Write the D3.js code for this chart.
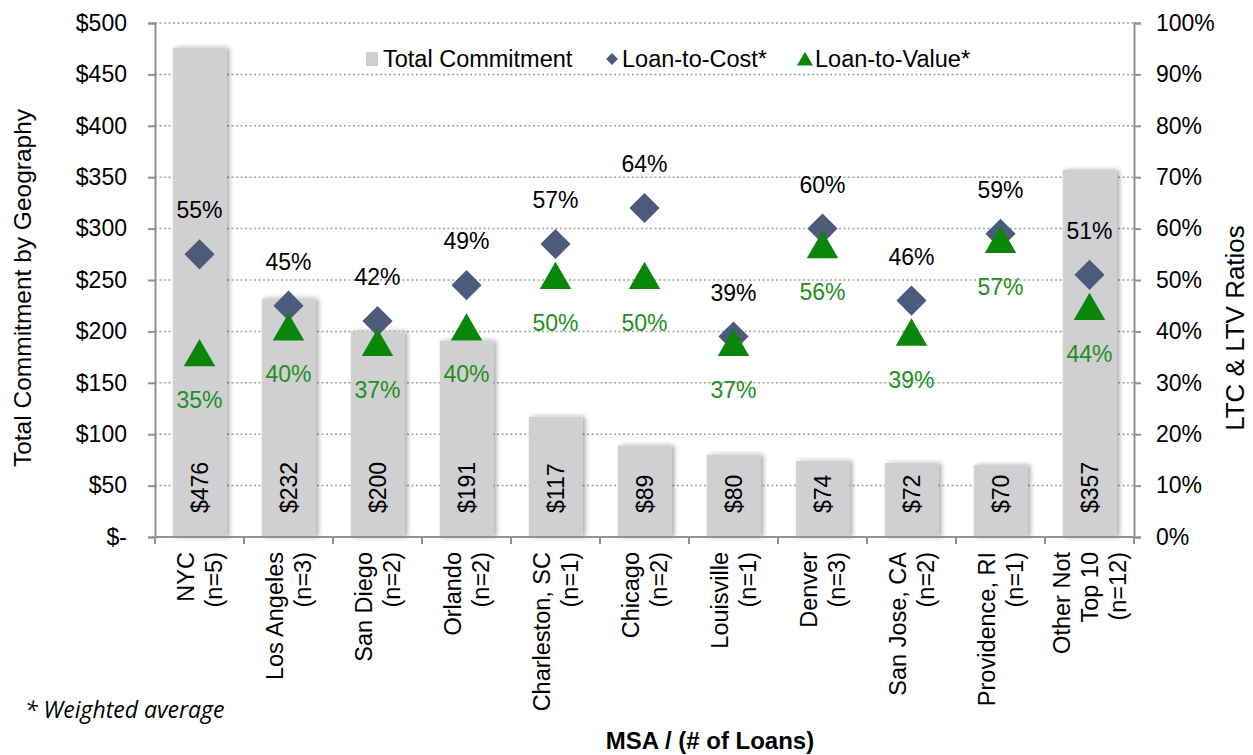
<!DOCTYPE html>
<html>
<head>
<meta charset="utf-8">
<script src="https://cdnjs.cloudflare.com/ajax/libs/d3/7.8.5/d3.min.js"></script>
<style>
  body { margin: 0; background: #fff; }
  svg text { font-family: "Liberation Sans", Arial, sans-serif; }
</style>
</head>
<body>
<svg id="chart"></svg>
<script>
// chart data
const msaNames = ['NYC\n(n=5)', 'Los Angeles\n(n=3)', 'San Diego\n(n=2)', 'Orlando\n(n=2)',
  'Charleston, SC\n(n=1)', 'Chicago\n(n=2)', 'Louisville\n(n=1)', 'Denver\n(n=3)',
  'San Jose, CA\n(n=2)', 'Providence, RI\n(n=1)', 'Other Not\nTop 10\n(n=12)'];
const commitment = [476, 232, 200, 191, 117, 89, 80, 74, 72, 70, 357];
const loanToCost = [55, 45, 42, 49, 57, 64, 39, 60, 46, 59, 51];
const loanToValue = [35, 40, 37, 40, 50, 50, 37, 56, 39, 57, 44];
const leftTicks = [0, 50, 100, 150, 200, 250, 300, 350, 400, 450, 500];
const rightTicks = [0, 10, 20, 30, 40, 50, 60, 70, 80, 90, 100];

const width = 1253, height = 755;
const margin = {top: 23, bot: 218, left: 155, right: 119};
const plotW = width - margin.left - margin.right;
const plotH = height - margin.top - margin.bot;
const fs = 23;

const barColor = '#d0cfd1';
const ltcColor = '#4a5b7c';
const ltvColor = '#0a860a';
const ltvText = '#1f8f1f';
const axisColor = '#8e9196';

let svg = d3.select('#chart')
  .attr('width', width)
  .attr('height', height);

let defs = svg.append('defs');
let shadow = defs.append('filter')
  .attr('id', 'shadow')
  .attr('x', '-20%').attr('y', '-5%')
  .attr('width', '150%').attr('height', '110%');
shadow.append('feDropShadow')
  .attr('dx', 3).attr('dy', 0)
  .attr('stdDeviation', 2.5)
  .attr('flood-color', '#000')
  .attr('flood-opacity', 0.35);

let xScale = d3.scaleBand()
  .domain(msaNames)
  .range([margin.left, margin.left + plotW])
  .padding(0);
let yScale = d3.scaleLinear()
  .domain([0, 500])
  .range([margin.top + plotH, margin.top]);
let pctScale = d3.scaleLinear()
  .domain([0, 100])
  .range([margin.top + plotH, margin.top]);

// dotted gridlines
svg.append('g')
  .selectAll('line')
  .data(leftTicks.filter(d => d > 0))
  .join('line')
  .attr('x1', margin.left)
  .attr('x2', margin.left + plotW)
  .attr('y1', d => yScale(d))
  .attr('y2', d => yScale(d))
  .attr('stroke', '#a0a0a0')
  .attr('stroke-width', 1.5)
  .attr('stroke-dasharray', '2,2.5');

// bars
let barW = xScale.bandwidth() * 0.6;
svg.append('g')
  .selectAll('rect')
  .data(commitment)
  .join('rect')
  .attr('x', (d, i) => xScale(msaNames[i]) + (xScale.bandwidth() - barW) / 2)
  .attr('y', d => yScale(d))
  .attr('width', barW)
  .attr('height', d => yScale(0) - yScale(d))
  .attr('fill', barColor)
  .attr('filter', 'url(#shadow)');

// bar value labels
svg.append('g')
  .selectAll('text')
  .data(commitment)
  .join('text')
  .attr('transform', (d, i) => `translate(${xScale(msaNames[i]) + xScale.bandwidth() / 2 + 8},${yScale(0) - 24}) rotate(-90)`)
  .attr('font-size', fs)
  .attr('fill', '#000')
  .text(d => '$' + d);

// left axis
let yAx = d3.axisLeft(yScale)
  .tickValues(leftTicks)
  .tickSize(7)
  .tickPadding(21)
  .tickFormat(d => d === 0 ? '$-' : '$' + d);
let yAxG = svg.append('g')
  .attr('transform', `translate(${margin.left},0)`)
  .call(yAx);

// right axis
let rAx = d3.axisRight(pctScale)
  .tickValues(rightTicks)
  .tickSize(7)
  .tickPadding(15)
  .tickFormat(d => d + '%');
let rAxG = svg.append('g')
  .attr('transform', `translate(${margin.left + plotW},0)`)
  .call(rAx);

// bottom axis (ticks between categories)
let xAxG = svg.append('g')
  .attr('transform', `translate(0,${margin.top + plotH})`);
xAxG.append('line')
  .attr('x1', margin.left).attr('x2', margin.left + plotW)
  .attr('stroke', axisColor).attr('stroke-width', 2);
xAxG.selectAll('.xtick')
  .data(msaNames.concat(['end']))
  .join('line')
  .attr('class', 'xtick')
  .attr('x1', (d, i) => margin.left + i * xScale.step())
  .attr('x2', (d, i) => margin.left + i * xScale.step())
  .attr('y1', 0).attr('y2', 7)
  .attr('stroke', axisColor).attr('stroke-width', 2);

for (let g of [yAxG, rAxG]) {
  g.select('.domain').attr('stroke', axisColor).attr('stroke-width', 2);
  g.selectAll('.tick line').attr('stroke', axisColor).attr('stroke-width', 2);
  g.selectAll('.tick text')
    .attr('font-size', fs)
    .attr('font-family', '"Liberation Sans", Arial, sans-serif')
    .attr('fill', '#000');
}

// category labels, rotated
let catG = svg.append('g');
msaNames.forEach((name, i) => {
  let lines = name.split('\n');
  let cx = xScale(name) + xScale.bandwidth() / 2;
  let lh = 28;
  lines.forEach((ln, j) => {
    let off = (j - (lines.length - 1) / 2) * lh + 8;
    catG.append('text')
      .attr('transform', `translate(${cx + off},${margin.top + plotH + 15}) rotate(-90)`)
      .attr('text-anchor', 'end')
      .attr('font-size', 23.5)
      .attr('fill', '#000')
      .text(ln);
  });
});

// loan-to-cost diamonds
let diamond = d3.symbol().type(d3.symbolDiamond2).size(580);
svg.append('g')
  .selectAll('path')
  .data(loanToCost)
  .join('path')
  .attr('d', diamond)
  .attr('transform', (d, i) => `translate(${xScale(msaNames[i]) + xScale.bandwidth() / 2},${pctScale(d)})`)
  .attr('fill', ltcColor);
svg.append('g')
  .selectAll('text')
  .data(loanToCost)
  .join('text')
  .attr('x', (d, i) => xScale(msaNames[i]) + xScale.bandwidth() / 2)
  .attr('y', d => pctScale(d) - 36)
  .attr('text-anchor', 'middle')
  .attr('font-size', fs)
  .attr('fill', '#000')
  .text(d => d + '%');

// loan-to-value triangles
let triangle = d3.symbol().type(d3.symbolTriangle).size(430);
svg.append('g')
  .selectAll('path')
  .data(loanToValue)
  .join('path')
  .attr('d', triangle)
  .attr('transform', (d, i) => `translate(${xScale(msaNames[i]) + xScale.bandwidth() / 2},${pctScale(d)})`)
  .attr('fill', ltvColor);
svg.append('g')
  .selectAll('text')
  .data(loanToValue)
  .join('text')
  .attr('x', (d, i) => xScale(msaNames[i]) + xScale.bandwidth() / 2)
  .attr('y', d => pctScale(d) + 51)
  .attr('text-anchor', 'middle')
  .attr('font-size', fs)
  .attr('fill', ltvText)
  .text(d => d + '%');

// legend
let legend = svg.append('g').attr('font-size', 23.5);
legend.append('rect')
  .attr('x', 366).attr('y', 52).attr('width', 12).attr('height', 14)
  .attr('fill', barColor);
legend.append('text').attr('x', 383).attr('y', 67).text('Total Commitment');
legend.append('path')
  .attr('d', d3.symbol().type(d3.symbolDiamond2).size(90))
  .attr('transform', 'translate(612,59)')
  .attr('fill', ltcColor);
legend.append('text').attr('x', 622).attr('y', 67).text('Loan-to-Cost*');
legend.append('path')
  .attr('d', d3.symbol().type(d3.symbolTriangle).size(110))
  .attr('transform', 'translate(805,61)')
  .attr('fill', ltvColor);
legend.append('text').attr('x', 815).attr('y', 67).text('Loan-to-Value*');

// axis titles
svg.append('text')
  .attr('transform', `translate(31,${margin.top + plotH / 2 + 8}) rotate(-90)`)
  .attr('text-anchor', 'middle')
  .attr('font-size', 24.5)
  .text('Total Commitment by Geography');
svg.append('text')
  .attr('transform', `translate(1244,328) rotate(-90)`)
  .attr('text-anchor', 'middle')
  .attr('font-size', 26)
  .text('LTC & LTV Ratios');
svg.append('text')
  .attr('x', 710).attr('y', 749)
  .attr('text-anchor', 'middle')
  .attr('font-size', 24)
  .attr('font-weight', 'bold')
  .text('MSA / (# of Loans)');
svg.append('text')
  .attr('x', 25).attr('y', 718)
  .attr('font-size', 23)
  .attr('font-style', 'italic')
  .style('font-family', '"Open Sans", sans-serif')
  .text('* Weighted average');
</script>
</body>
</html>
